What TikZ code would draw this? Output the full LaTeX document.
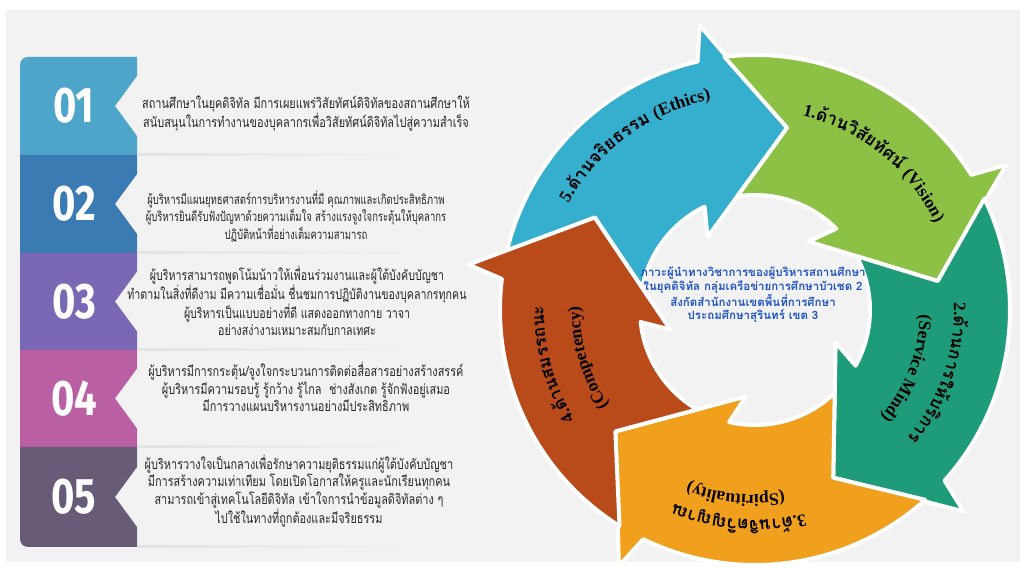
\documentclass[tikz,border=0pt]{standalone}
\usepackage{fontspec}
\usetikzlibrary{decorations.text}
\newfontfamily\thaifont[Script=Thai]{Loma}
\newfontfamily\thaiA[Script=Thai,FakeStretch=0.78]{Loma}
\newfontfamily\thaiB[Script=Thai,FakeStretch=0.76]{Loma}
\newfontfamily\thaiC[Script=Thai,FakeStretch=0.72]{Loma}
\newfontfamily\numfont[FakeStretch=0.8]{Fira Sans}
\newfontfamily\serifb{Liberation Serif}
\definecolor{bg}{RGB}{242,242,242}
\definecolor{c1}{RGB}{77,166,201}
\definecolor{c2}{RGB}{58,123,180}
\definecolor{c3}{RGB}{123,104,180}
\definecolor{c4}{RGB}{187,95,165}
\definecolor{c5}{RGB}{103,91,120}
\definecolor{txt}{RGB}{40,40,40}
\definecolor{ctr}{RGB}{30,82,196}
\definecolor{ablue}{RGB}{54,174,205}
\definecolor{agreen}{RGB}{140,193,70}
\definecolor{ateal}{RGB}{30,155,120}
\definecolor{aorange}{RGB}{241,160,30}
\definecolor{abrown}{RGB}{185,74,26}
\newcommand\labT{\thaifont\bfseries\fontsize{17.5}{17.5}\selectfont}
\newcommand\labL{\serifb\bfseries\fontsize{17.5}{17.5}\selectfont}
\newcommand\listtab[4]{\fill[#1] (20,#3) -- (20,#2) -- (137,#2) -- (137,#4+30) -- (115,#4) -- (137,#4-30) -- (137,#3) -- cycle;}
\newcommand\sepline[1]{\shade[left color=gray!22, right color=bg] (137,#1-1) rectangle (430,#1+1);}
% #1 colour, #2 tip angle, #3 tip angle of the previous arrow
\newcommand\cyclearrow[3]{%
  \fill[#1, draw=white, line width=4pt, line join=round]
   ({#3+16.9}:255) arc[start angle={#3+16.9}, end angle={#2+23}, radius=255]
   -- ({#2+21}:290) -- (#2:185) -- ({#2+43}:87) -- ({#2+36}:115)
   arc[start angle={#2+36}, end angle={#3+18.9}, radius=115]
   -- (#3:185) -- cycle;}
\tikzset{
  numtxt/.style={font=\numfont\bfseries\fontsize{50}{50}\selectfont, text=white},
  listtxt/.style={align=center, text=txt, font=\thaiA\fontsize{14}{17.3}\selectfont},
  ctrtxt/.style={align=center, text=ctr, font=\thaifont\bfseries\fontsize{11.5}{13.5}\selectfont},
  arclab/.style={decorate, decoration={text along path, text align=center, text={#1}}}
}
\begin{document}
\begin{tikzpicture}[x=1pt,y=1pt]
\useasboundingbox (0,0) rectangle (1025,570);
\fill[white] (0,0) rectangle (1025,570);
\fill[bg] (6,8) rectangle (1020,560);

% list tabs
\fill[c1] (20,415) -- (20,505) arc[start angle=180, end angle=90, radius=8] -- (137,513) -- (137,494) -- (115,464) -- (137,434) -- (137,415) -- cycle;
\listtab{c2}{415}{317}{366}
\listtab{c3}{317}{220}{268.5}
\listtab{c4}{220}{123}{171.5}
\fill[c5] (20,123) -- (137,123) -- (137,103) -- (115,73) -- (137,43) -- (137,23) -- (28,23) arc[start angle=270, end angle=180, radius=8] -- cycle;
\sepline{415}\sepline{317}\sepline{220}\sepline{123}\sepline{23}

\node[numtxt] (n1) at (74,464) {01};
\node[numtxt] (n2) at (74,366) {02};
\node[numtxt] (n3) at (74,268.5) {03};
\node[numtxt] (n4) at (74,171.5) {04};
\node[numtxt] (n5) at (74,73) {05};

\node[listtxt, font=\thaiA\fontsize{14}{18.7}\selectfont] (t1) at (306,456.5) {สถานศึกษาในยุคดิจิทัล มีการเผยแพร่วิสัยทัศน์ดิจิทัลของสถานศึกษาให้\\สนับสนุนในการทำงานของบุคลากรเพื่อวิสัยทัศน์ดิจิทัลไปสู่ความสำเร็จ};
\node[listtxt, font=\thaiC\fontsize{13.2}{13.8}\selectfont] (t2) at (296,353.5) {ผู้บริหารมีแผนยุทธศาสตร์การบริหารงานที่มี คุณภาพและเกิดประสิทธิภาพ\\ผู้บริหารยินดีรับฟังปัญหาด้วยความเต็มใจ สร้างแรงจูงใจกระตุ้นให้บุคลากร\\ปฏิบัติหน้าที่อย่างเต็มความสามารถ};
\node[listtxt, font=\thaiB\fontsize{14}{17.3}\selectfont] (t3) at (297,269) {ผู้บริหารสามารถพูดโน้มน้าวให้เพื่อนร่วมงานและผู้ใต้บังคับบัญชา\\ทำตามในสิ่งที่ดีงาม มีความเชื่อมั่น ชื่นชมการปฏิบัติงานของบุคลากรทุกคน\\ผู้บริหารเป็นแบบอย่างที่ดี แสดงออกทางกาย วาจา\\อย่างสง่างามเหมาะสมกับกาลเทศะ};
\node[listtxt] (t4) at (306,183) {ผู้บริหารมีการกระตุ้น/จูงใจกระบวนการติดต่อสื่อสารอย่างสร้างสรรค์\\ผู้บริหารมีความรอบรู้ รู้กว้าง รู้ไกล\ \ ช่างสังเกต รู้จักฟังอยู่เสมอ\\มีการวางแผนบริหารงานอย่างมีประสิทธิภาพ};
\node[listtxt] (t5) at (299,79) {ผู้บริหารวางใจเป็นกลางเพื่อรักษาความยุติธรรมแก่ผู้ใต้บังคับบัญชา\\มีการสร้างความเท่าเทียม โดยเปิดโอกาสให้ครูและนักเรียนทุกคน\\สามารถเข้าสู่เทคโนโลยีดิจิทัล เข้าใจการนำข้อมูลดิจิทัลต่าง ๆ\\ไปใช้ในทางที่ถูกต้องและมีจริยธรรม};

% cycle
\begin{scope}[shift={(755,260)}]
\cyclearrow{ablue}{80}{150}
\cyclearrow{agreen}{9}{80}
\cyclearrow{ateal}{-65}{9}
\cyclearrow{aorange}{-139}{-65}
\cyclearrow{abrown}{-210}{-139}

\path[arclab={|\labL|5.|\labT|{ด้}{า}{น}{จ}{ริ}{ย}{ธ}{ร}{ร}{ม} |\labL|(Ethics)}] (176:215) arc[start angle=176, end angle=76, radius=215];
\path[arclab={|\labL|1.|\labT|{ด้}{า}{น}{วิ}{สั}{ย}{ทั}{ศ}{น์} |\labL|(Vision)}] (101:200) arc[start angle=101, end angle=1, radius=200];
\path[arclab={|\labL|2.|\labT|{ด้}{า}{น}{ก}{า}{ร}{ใ}{ห้}{บ}{ริ}{ก}{า}{ร}}] (31:199) arc[start angle=31, end angle=-69, radius=199];
\path[arclab={|\labL|(Service Mind)}] (29:165) arc[start angle=29, end angle=-71, radius=165];
\path[arclab={|\labL|3.|\labT|{ด้}{า}{น}{จิ}{ต}{วิ}{ญ}{ญ}{า}{ณ}}] (-44.5:210) arc[start angle=-44.5, end angle=-144.5, radius=210];
\path[arclab={|\labL|(Spirituality)}] (-46:185) arc[start angle=-46, end angle=-146, radius=185];
\path[arclab={|\labL|4.|\labT|{ด้}{า}{น}{ส}{ม}{ร}{ร}{ถ}{น}{ะ}}] (245:211) arc[start angle=245, end angle=145, radius=211];
\path[arclab={|\labL|(Competency)}] (246:175) arc[start angle=246, end angle=146, radius=175];
\end{scope}

\node[ctrtxt] (center) at (753,275) {ภาวะผู้นำทางวิชาการของผู้บริหารสถานศึกษา\\ในยุคดิจิทัล กลุ่มเครือข่ายการศึกษาบัวเชด 2\\สังกัดสำนักงานเขตพื้นที่การศึกษา\\ประถมศึกษาสุรินทร์ เขต 3};
\end{tikzpicture}
\end{document}
